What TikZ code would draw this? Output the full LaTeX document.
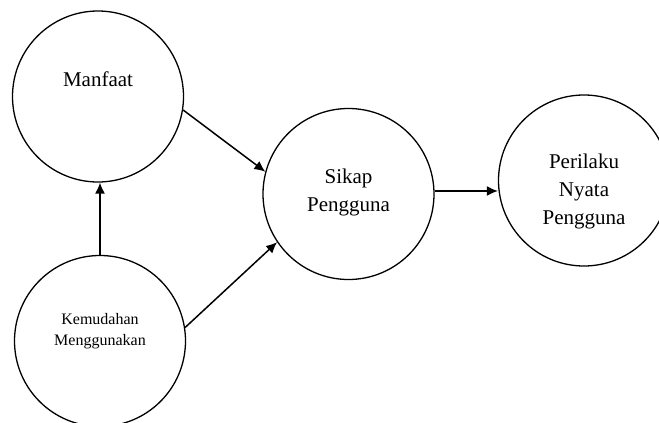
\documentclass[tikz,border=0pt]{standalone}
\usepackage{fontspec}
\setmainfont{Liberation Serif}
\usetikzlibrary{arrows.meta}

\begin{document}
\begin{tikzpicture}
[
x=1pt, y=-1pt,
ring/.style   ={circle, draw, line width=1.3pt, minimum size=171pt, inner sep=0pt},
big/.style    ={font=\fontsize{21}{28}\selectfont, align=center, inner sep=0pt},
small/.style  ={font=\fontsize{16}{21}\selectfont, align=center, inner sep=0pt},
line/.style   ={draw, line width=1.5pt, -{Latex[length=11pt,width=10pt]}},
]
\useasboundingbox (0,0) rectangle (659,423);

\node[ring] (manfaat) at (98,96.5) {};
\node[ring] (kemudahan) at (100,341) {};
\node[ring] (sikap) at (348.5,194) {};
\node[ring] (perilaku) at (584,180.5) {};

\node[big] (manfaatText) at ([yshift=17.5pt]manfaat.center) {Manfaat};
\node[small] (kemudahanText) at ([yshift=10pt]kemudahan.center) {Kemudahan\\Menggunakan};
\node[big] (sikapText) at ([yshift=2pt]sikap.center) {Sikap\\Pengguna};
\node[big] (perilakuText) at ([yshift=-11pt]perilaku.center) {Perilaku\\Nyata\\Pengguna};

\path[line] (kemudahan.north) -- (kemudahan.north |- manfaat.south);
\path[line] (manfaat.-9) -- (sikap.165);
\path[line] (kemudahan.9) -- (sikap.214);
\path[line] (sikap.2) -- (sikap.2 -| perilaku.west);
\end{tikzpicture}
\end{document}
